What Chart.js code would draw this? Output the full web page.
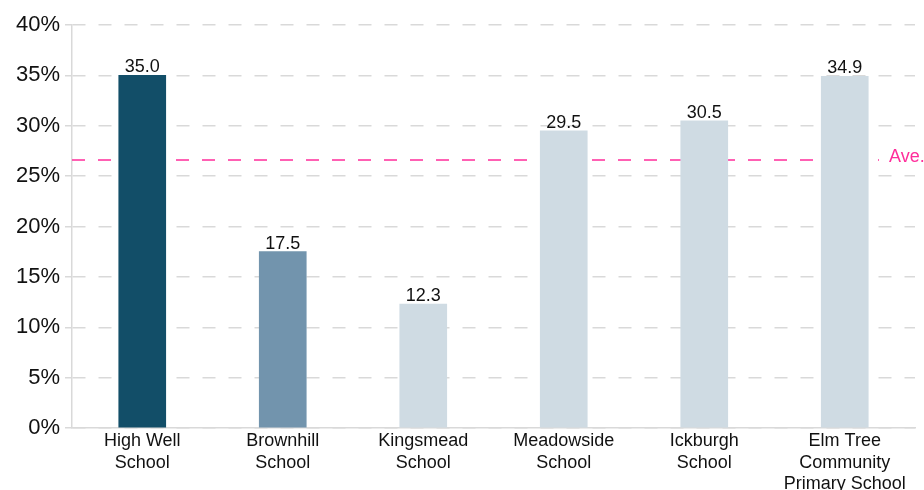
<!DOCTYPE html>
<html>
<head>
<meta charset="utf-8">
<title>Schools chart</title>
<script src="https://cdn.jsdelivr.net/npm/chart.js@4.4.1/dist/chart.umd.min.js"></script>
<style>
  html, body { margin: 0; padding: 0; background: #fff; overflow: hidden; }
  #wrap { position: relative; width: 924px; height: 490px; }
</style>
</head>
<body>
<div id="wrap"><canvas id="schoolChart"></canvas></div>
<script>
const schools = [
  ["High Well", "School"],
  ["Brownhill", "School"],
  ["Kingsmead", "School"],
  ["Meadowside", "School"],
  ["Ickburgh", "School"],
  ["Elm Tree", "Community", "Primary School"],
];
const values = [35.0, 17.5, 12.3, 29.5, 30.5, 34.9];
const barColors = ["#124e68", "#7294ad", "#cfdbe3", "#cfdbe3", "#cfdbe3", "#cfdbe3"];
const average = 26.6;
const averageLabel = "Ave.";
const yTicks = [0, 5, 10, 15, 20, 25, 30, 35, 40];

const FONT = "'Liberation Sans', Arial, sans-serif";
const PINK = "#ff2d9b";
const GRID = "#d9d9d9";

const averageLine = {
  id: "averageLine",
  beforeDatasetsDraw(chart) {
    const { ctx, chartArea, scales } = chart;
    const y = scales.y.getPixelForValue(average);
    ctx.save();
    ctx.strokeStyle = PINK;
    ctx.lineWidth = 1.5;
    ctx.setLineDash([13, 13]);
    ctx.beginPath();
    ctx.moveTo(chartArea.left, y);
    ctx.lineTo(chartArea.right - 36, y);
    ctx.stroke();
    ctx.setLineDash([]);
    ctx.fillStyle = PINK;
    ctx.font = "18px " + FONT;
    ctx.textAlign = "left";
    ctx.textBaseline = "alphabetic";
    ctx.fillText(averageLabel, chartArea.right - 26, y + 2);
    ctx.restore();
  },
};

const valueLabels = {
  id: "valueLabels",
  afterDatasetsDraw(chart) {
    const { ctx } = chart;
    const meta = chart.getDatasetMeta(0);
    ctx.save();
    ctx.fillStyle = "#111";
    ctx.font = "18px " + FONT;
    ctx.textAlign = "center";
    ctx.textBaseline = "alphabetic";
    meta.data.forEach((bar, i) => {
      ctx.fillText(values[i].toFixed(1), bar.x, bar.y - 3);
    });
    ctx.restore();
  },
};

function init() {
  const ctx = document.getElementById("schoolChart");
  new Chart(ctx, {
    type: "bar",
    data: {
      labels: schools,
      datasets: [{
        data: values,
        backgroundColor: barColors,
        borderWidth: 0,
        barThickness: 47,
      }],
    },
    options: {
      responsive: true,
      maintainAspectRatio: false,
      animation: false,
      layout: { padding: { top: 25, right: 9, left: 0, bottom: 0 } },
      plugins: {
        legend: { display: false },
        tooltip: { enabled: false },
      },
      scales: {
        x: {
          grid: { display: false, drawTicks: false },
          border: { display: true, color: GRID, width: 1.5 },
          ticks: {
            color: "#111",
            font: { family: FONT, size: 18, lineHeight: 1.17 },
            padding: 3,
            maxRotation: 0,
            autoSkip: false,
          },
          afterFit(scale) { scale.height = 62; },
        },
        y: {
          min: 0,
          max: 40,
          afterBuildTicks(scale) { scale.ticks = yTicks.map((v) => ({ value: v })); },
          grid: {
            color: GRID,
            lineWidth: 1.5,
            tickLength: 7,
            tickBorderDash: [],
          },
          border: { display: true, color: GRID, width: 1.5, dash: [13, 13] },
          ticks: {
            color: "#111",
            font: { family: FONT, size: 22 },
            padding: 5,
            callback: (v) => v + "%",
          },
          afterFit(scale) { scale.width = 72; },
        },
      },
    },
    plugins: [averageLine, valueLabels],
  });
}

if (document.readyState === "loading") {
  document.addEventListener("DOMContentLoaded", init);
} else {
  init();
}
</script>
</body>
</html>
